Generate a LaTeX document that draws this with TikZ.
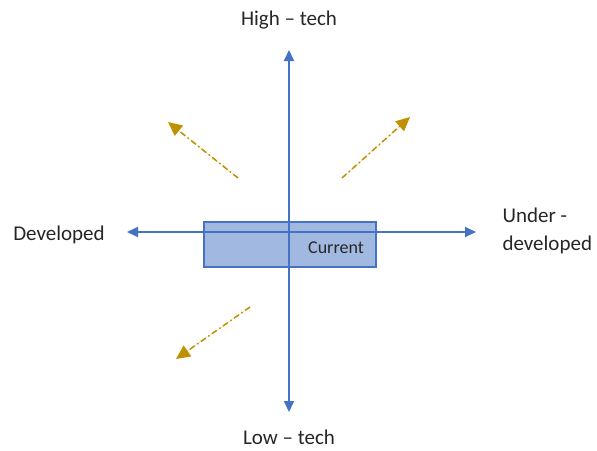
\documentclass[tikz,border=0pt]{standalone}
\usepackage{fontspec}
\setmainfont{Carlito}
\usetikzlibrary{arrows.meta}

\definecolor{axisblue}{HTML}{4472C4}
\definecolor{movegold}{HTML}{BF9000}

\begin{document}
\begin{tikzpicture}[
    x=1pt, y=-1pt,
    every node/.style={font=\fontsize{21}{28}\selectfont, text=black!85},
    axis/.style={{Triangle[length=11pt,width=10pt]}-{Triangle[length=11pt,width=10pt]}, draw=axisblue, line width=1.8pt},
    movearrow/.style={-{Triangle[length=14pt,width=13pt]}, draw=movegold, fill=movegold, line width=1.5pt, dash pattern=on 6pt off 3pt on 1.5pt off 3pt},
    box/.style={draw=axisblue, fill=axisblue, fill opacity=0.5, line width=1.2pt, minimum width=172pt, minimum height=45pt}
]
\useasboundingbox (0,0) rectangle (597,450);

% current position
\node[box] (current) at (290,244.5) {};
\node (currentlbl) at (336,248) {\fontsize{18}{20}\selectfont Current};

% axis ends
\coordinate (top) at (289,50);
\coordinate (bottom) at (289,412);
\coordinate (left) at (127,232);
\coordinate (right) at (476,232);

\draw[axis] (bottom) -- (top);
\draw[axis] (left) -- (right);

\node (hightech) at (289,20) {High -- tech};
\node (lowtech) at (289,437) {Low -- tech};
\node (developed) at (59,235) {Developed};
\node[align=left, anchor=west] (underdev) at (499,231) {Under -\\developed};

% possible moves
\coordinate (tl0) at (238,178); \coordinate (tl1) at (168,122);
\coordinate (tr0) at (342,178); \coordinate (tr1) at (410,117);
\coordinate (bl0) at (250,307); \coordinate (bl1) at (176,359);

\draw[movearrow] (tl0) -- (tl1);
\draw[movearrow] (tr0) -- (tr1);
\draw[movearrow] (bl0) -- (bl1);

\end{tikzpicture}
\end{document}
